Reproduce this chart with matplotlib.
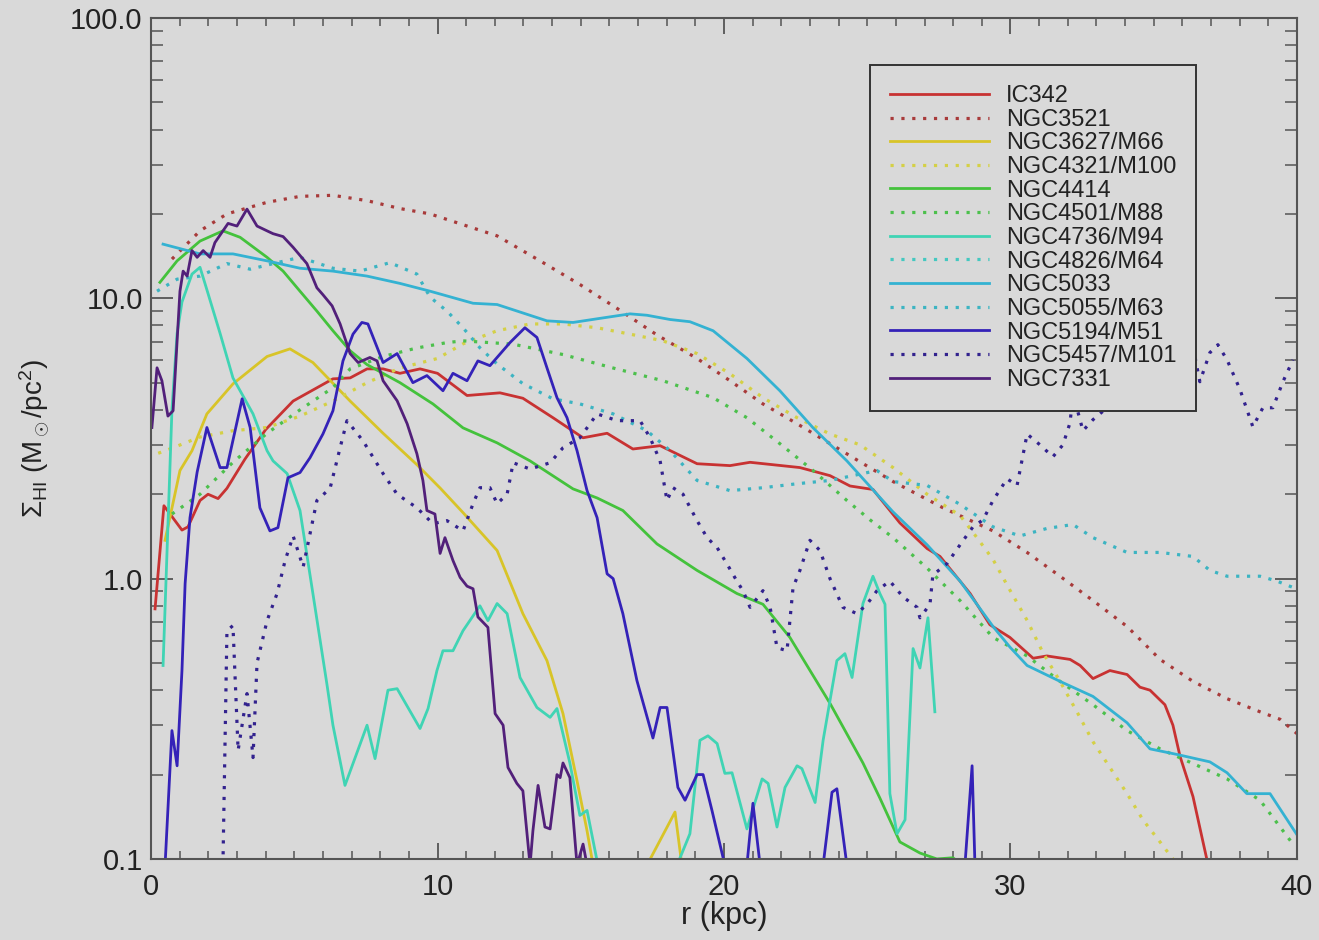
import numpy as np
import matplotlib
matplotlib.use("Agg")
import matplotlib.pyplot as plt
from matplotlib.ticker import FixedLocator, FixedFormatter, MultipleLocator, LogLocator, NullFormatter

plt.rcParams['font.family'] = ['Liberation Sans', 'DejaVu Sans']
plt.rcParams['mathtext.fontset'] = 'custom'
plt.rcParams['mathtext.rm'] = 'Liberation Sans'
plt.rcParams['mathtext.it'] = 'Liberation Sans'

nan = np.nan

# IC342
r_ic342 = [0.14, 0.45, 1.08, 1.29, 1.71, 1.99, 2.34, 2.65, 3.28, 4.0, 4.96, 6.35, 6.95, 7.54, 8.1, 8.69,
           9.39, 10.0, 11.03, 12.18, 12.98, 14.03, 15.08, 15.92, 16.82, 17.77, 19.06, 20.21, 20.91, 22.65,
           23.7, 24.4, 25.2, 26.14, 27.09, 27.54, 28.59, 29.28, 29.98, 30.79, 31.27, 32.08, 32.43, 32.88,
           33.47, 34.07, 34.52, 34.87, 35.39, 35.67, 35.92, 36.37, 36.72, 36.9]
s_ic342 = [0.78, 1.82, 1.49, 1.53, 1.9, 2.0, 1.93, 2.1, 2.67, 3.4, 4.3, 5.16, 5.2, 5.6, 5.6, 5.4,
           5.6, 5.4, 4.5, 4.6, 4.4, 3.75, 3.18, 3.3, 2.9, 2.98, 2.57, 2.53, 2.6, 2.49,
           2.33, 2.14, 2.08, 1.58, 1.28, 1.2, 0.885, 0.685, 0.617, 0.52, 0.53, 0.515, 0.49, 0.44,
           0.47, 0.455, 0.41, 0.40, 0.355, 0.30, 0.232, 0.167, 0.115, 0.095]

# NGC3521
r_n3521 = [0.73, 1.71, 2.65, 4.05, 5.2, 6.35, 7.54, 8.69, 9.74, 12.08, 13.58, 14.97, 16.27, 17.66, 19.06,
           20.21, 21.36, 22.55, 23.7, 24.75, 25.9, 27.64, 29.39, 30.58, 31.73, 32.88, 34.07, 35.22, 36.37,
           37.56, 38.71, 39.41, 40.0]
s_n3521 = [13.8, 17.4, 20.0, 22.0, 23.1, 23.3, 22.3, 20.9, 20.0, 16.7, 13.6, 11.2, 9.2, 7.4, 6.1,
           5.08, 4.2, 3.57, 3.03, 2.61, 2.22, 1.79, 1.48, 1.24, 1.02, 0.835, 0.675, 0.515, 0.43,
           0.373, 0.335, 0.315, 0.28]

# NGC3627/M66
r_n3627 = [0.49, 1.01, 1.43, 1.95, 2.86, 4.05, 4.85, 5.65, 6.95, 8.1, 9.28, 10.1, 10.89, 12.08, 12.98,
           13.82, 14.38, 14.87, 15.22, 15.43, nan, 17.31, 18.29, 18.53]
s_n3627 = [1.37, 2.43, 2.86, 3.87, 4.95, 6.2, 6.6, 5.9, 4.3, 3.3, 2.55, 2.1, 1.72, 1.26, 0.75,
           0.51, 0.33, 0.19, 0.126, 0.095, nan, 0.095, 0.147, 0.095]

# NGC4321/M100
r_n4321 = [0.25, 0.77, 1.71, 2.86, 4.05, 5.2, 6.35, 7.54, 8.69, 10.0, 10.89, 12.08, 13.23, 14.38, 15.57,
           16.72, 17.87, 19.06, 20.21, 21.36, 22.55, 23.7, 24.75, 25.9, 27.09, 28.24, 28.83, 29.39,
           29.98, 30.58, 31.13, 31.73, 32.32, 32.88, 33.47, 34.07, 34.62, 35.22, 35.67]
s_n4321 = [2.8, 2.93, 3.2, 3.37, 3.46, 3.8, 4.3, 5.0, 5.64, 6.1, 6.88, 7.66, 8.1, 8.1, 7.85,
           7.45, 7.05, 6.35, 5.38, 4.42, 3.75, 3.28, 3.0, 2.49, 2.0, 1.68, 1.4, 1.17,
           0.91, 0.71, 0.545, 0.43, 0.335, 0.262, 0.212, 0.171, 0.138, 0.115, 0.1]

# NGC4414
r_n4414 = [0.31, 0.91, 1.71, 2.51, 3.11, 4.05, 4.61, 5.2, 5.79, 6.35, 6.95, 7.54, 8.69, 9.84, 10.89,
           12.08, 13.23, 14.73, 15.57, 16.47, 17.66, 19.06, 20.45, 21.36, 22.3, 23.7, 24.85, 25.44,
           26.14, 26.84, 27.43, 27.99, 28.1]
s_n4414 = [11.4, 13.6, 16.0, 17.4, 16.5, 14.0, 12.5, 10.6, 9.0, 7.66, 6.5, 5.8, 5.0, 4.2, 3.45,
           3.05, 2.63, 2.09, 1.94, 1.75, 1.33, 1.07, 0.885, 0.81, 0.617, 0.359, 0.22, 0.165,
           0.115, 0.105, 0.1, 0.101, 0.099]

# NGC4501/M88
r_n4501 = [0.73, 1.71, 2.86, 4.05, 5.2, 6.35, 6.95, 8.1, 9.28, 10.33, 10.89, 12.64, 14.38, 16.13, 17.87,
           19.62, 20.8, 21.95, 23.11, 24.29, 25.1, 25.9, 27.09, 28.24, 29.39, 30.58, 31.73, 32.88,
           34.07, 35.22, 36.37, 37.56, 38.71, 39.86]
s_n4501 = [1.7, 2.0, 2.6, 3.3, 4.0, 4.8, 5.6, 6.2, 6.65, 6.95, 7.05, 6.86, 6.3, 5.64, 5.08,
           4.42, 3.75, 3.03, 2.43, 1.9, 1.62, 1.4, 1.09, 0.835, 0.617, 0.53, 0.43, 0.355,
           0.287, 0.247, 0.219, 0.193, 0.162, 0.113]

# NGC4736/M94
r_n4736 = [0.42, 0.56, 0.73, 0.91, 1.08, 1.43, 1.71, 1.99, 2.41, 2.86, 3.56, 4.05, 4.26, 4.75, 5.2,
           5.65, 6.14, 6.35, 6.77, 7.54, 7.82, 8.27, 8.59, 9.39, 9.67, 9.98, 10.19, 10.54, 10.89,
           11.48, 11.76, 12.08, 12.43, 12.88, 13.47, 13.93, 14.17, 14.62, 14.97, 15.22, 15.6, nan,
           18.36, 18.81, 19.16, 19.44, 19.76, 20.03, 20.28, 20.8, 21.33, 21.54, 21.85, 22.13, 22.55,
           22.72, 23.18, 23.46, 23.94, 24.22, 24.47, 24.85, 25.2, 25.44, 25.62, 25.79, 26.04, 26.32,
           26.6, 26.84, 27.12, 27.36]
s_n4736 = [0.49, 1.26, 4.0, 7.5, 9.7, 12.2, 12.9, 10.4, 7.5, 5.2, 3.87, 2.86, 2.63, 2.37, 1.75,
           0.885, 0.42, 0.30, 0.183, 0.30, 0.228, 0.4, 0.405, 0.292, 0.344, 0.47, 0.553, 0.553, 0.652,
           0.80, 0.708, 0.815, 0.75, 0.444, 0.347, 0.32, 0.344, 0.22, 0.143, 0.149, 0.095, nan,
           0.095, 0.123, 0.265, 0.275, 0.258, 0.202, 0.203, 0.128, 0.193, 0.186, 0.130, 0.18, 0.215,
           0.21, 0.159, 0.265, 0.51, 0.54, 0.444, 0.815, 1.02, 0.885, 0.81, 0.171, 0.123, 0.138,
           0.563, 0.48, 0.725, 0.335]

# NGC4826/M64 (not visible in the plotted range)
r_n4826 = []
s_n4826 = []

# NGC5033
r_n5033 = [0.42, 1.71, 2.86, 4.05, 5.2, 6.35, 7.54, 8.69, 9.74, 11.24, 12.08, 13.82, 14.73, 15.57, 16.72,
           17.31, 18.12, 18.81, 19.62, 20.8, 21.95, 23.11, 24.29, 25.34, 25.9, 27.09, 28.24, 29.39,
           29.98, 30.58, 31.73, 32.88, 34.07, 34.87, 35.81, 36.96, 37.56, 38.25, 39.06, 40.0]
s_n5033 = [15.6, 14.4, 14.4, 13.6, 12.8, 12.5, 12.0, 11.3, 10.6, 9.6, 9.5, 8.31, 8.2, 8.45, 8.8,
           8.7, 8.4, 8.25, 7.66, 6.1, 4.68, 3.45, 2.63, 2.0, 1.73, 1.32, 0.98, 0.675,
           0.57, 0.49, 0.43, 0.38, 0.306, 0.247, 0.236, 0.222, 0.203, 0.171, 0.171, 0.122]

# NGC5055/M63
r_n5055 = [0.21, 0.91, 1.71, 2.65, 3.46, 4.4, 5.2, 6.35, 7.29, 8.34, 9.28, 9.74, 10.33, 10.89, 11.48,
           12.08, 12.98, 14.03, 14.97, 16.13, 17.31, 18.12, 19.06, 20.21, 21.36, 22.55, 23.7, 25.34,
           25.9, 27.09, 28.24, 29.39, 30.33, 31.27, 32.18, 32.88, 34.07, 35.22, 36.37, 36.96, 37.56,
           38.71, 39.3, 39.86]
s_n5055 = [10.6, 11.7, 12.0, 13.3, 12.7, 13.4, 14.0, 12.8, 12.5, 13.4, 12.2, 10.1, 9.0, 7.85, 6.66,
           5.83, 4.96, 4.38, 4.2, 3.87, 3.37, 2.86, 2.24, 2.06, 2.11, 2.18, 2.24, 2.43,
           2.22, 2.15, 1.84, 1.53, 1.42, 1.51, 1.56, 1.40, 1.24, 1.24, 1.2, 1.07, 1.02,
           1.02, 0.98, 0.93]

# NGC5194/M51
r_n5194 = [0.49, 0.73, 0.91, 1.08, 1.19, 1.36, 1.61, 1.95, 2.41, 2.65, 3.18, 3.46, 3.8, 4.15, 4.43,
           4.78, 5.2, 5.55, 6.0, 6.35, 6.7, 7.05, 7.36, 7.57, 8.1, 8.59, 9.14, 9.63, 10.19, 10.54,
           11.03, 11.41, 11.83, 12.53, 13.05, 13.47, 13.82, 14.17, 14.52, 14.87, 15.22, 15.57, 15.92,
           16.13, 16.47, 16.96, 17.52, 17.77, 18.01, 18.39, 18.64, 19.06, 19.27, 19.58, 20.03, nan,
           20.8, 21.01, 21.26, nan, 23.46, 23.77, 23.94, 24.29, nan, 28.41, 28.66, 28.76]
s_n5194 = [0.095, 0.287, 0.215, 0.47, 0.96, 1.65, 2.4, 3.46, 2.49, 2.49, 4.38, 3.46, 1.79, 1.48, 1.52,
           2.29, 2.39, 2.7, 3.28, 3.97, 5.98, 7.45, 8.2, 8.1, 5.9, 6.35, 5.0, 5.3, 4.68, 5.4,
           5.08, 5.98, 5.75, 6.95, 7.85, 7.25, 5.65, 4.42, 3.75, 2.86, 2.06, 1.65, 1.04,
           1.0, 0.75, 0.433, 0.27, 0.347, 0.347, 0.18, 0.162, 0.2, 0.2, 0.149, 0.095, nan,
           0.095, 0.158, 0.095, nan, 0.095, 0.173, 0.178, 0.095, nan, 0.095, 0.215, 0.095]

# NGC5457/M101
r_n5457 = [2.51, 2.65, 2.86, 3.04, 3.35, 3.56, 3.7, 4.05, 4.4, 4.68, 4.96, 5.31, 5.79, 6.25, 6.6,
           6.84, 7.4, 8.1, 8.59, 9.28, 9.84, 10.33, 10.89, 11.24, 11.48, 11.83, 12.08, 12.43, 12.64,
           13.23, 13.93, 14.38, 14.97, 15.57, 16.27, 17.07, 17.42, 17.77, 18.01, 18.22, 18.57, 19.06,
           19.41, 19.76, 20.1, 20.45, 20.66, 20.91, 21.36, 21.61, 21.85, 22.2, 22.41, 22.65, 23.0,
           23.35, 23.7, 24.15, 24.64, 24.99, 25.34, 25.79, 26.25, 26.74, 26.84, 27.19, 27.29, 27.78,
           28.24, 28.69, 29.04, 29.39, 29.88, 30.23, 30.58, 31.03, 31.48, 31.83, 32.08, 32.18, 32.53,
           32.88, 33.37, 33.82, 34.28, 34.52, 34.97, 35.32, 35.67, 35.92, 36.26, 36.61, 36.96, 37.24,
           37.56, 38.01, 38.46, 38.81, 39.16, 39.51, 39.86]
s_n5457 = [0.095, 0.652, 0.68, 0.244, 0.389, 0.23, 0.5, 0.708, 0.885, 1.16, 1.42, 1.1, 1.9, 2.1, 2.93,
           3.66, 3.1, 2.37, 2.0, 1.79, 1.57, 1.61, 1.48, 1.85, 2.11, 2.11, 1.85, 2.0, 2.59,
           2.46, 2.59, 2.93, 3.18, 3.87, 3.66, 3.66, 3.18, 2.63, 1.9, 2.11, 2.0, 1.61,
           1.4, 1.29, 1.13, 0.98, 0.906, 0.79, 0.906, 0.79, 0.567, 0.553, 0.93, 1.07, 1.37,
           1.26, 1.0, 0.79, 0.75, 0.81, 0.906, 0.98, 0.86, 0.79, 0.725, 0.81, 1.03, 1.13,
           1.32, 1.53, 1.62, 1.9, 2.27, 2.15, 3.28, 3.0, 2.72, 3.0, 3.6, 4.57, 3.37,
           3.69, 4.07, 4.18, 4.07, 5.16, 5.34, 4.73, 4.73, 6.03, 7.66, 5.04, 6.4, 6.83,
           6.03, 4.73, 3.48, 4.07, 4.07, 5.04, 6.03]

# NGC7331
r_n7331 = [0.03, 0.21, 0.38, 0.59, 0.77, 1.01, 1.12, 1.26, 1.43, 1.61, 1.82, 2.06, 2.23, 2.69, 3.0,
           3.35, 3.7, 4.05, 4.26, 4.61, 4.96, 5.44, 5.79, 6.0, 6.32, 6.6, 6.95, 7.23, 7.64, 7.89,
           8.1, 8.59, 8.94, 9.28, 9.49, 9.63, 9.91, 10.09, 10.26, 10.54, 10.79, 11.03, 11.24, 11.41,
           11.76, 12.01, 12.29, 12.46, 12.77, 12.98, 13.23, 13.33, 13.51, 13.75, 13.93, 14.17, 14.28,
           14.38, 14.62, 14.87, 15.08, 15.22]
s_n7331 = [3.46, 5.65, 5.08, 3.8, 3.97, 10.6, 12.5, 12.0, 14.8, 14.0, 14.8, 14.0, 15.8, 18.5, 18.1,
           20.8, 18.1, 17.4, 17.0, 16.6, 15.2, 13.3, 10.9, 10.3, 9.4, 8.1, 6.35, 5.9, 6.15, 5.98,
           5.08, 4.31, 3.57, 2.79, 2.24, 1.75, 1.70, 1.23, 1.4, 1.16, 1.01, 0.94, 0.92, 0.73,
           0.67, 0.33, 0.30, 0.212, 0.186, 0.175, 0.095, 0.126, 0.183, 0.13, 0.128, 0.2, 0.195,
           0.22, 0.195, 0.095, 0.113, 0.095]

names = ['IC342', 'NGC3521', 'NGC3627/M66', 'NGC4321/M100', 'NGC4414', 'NGC4501/M88', 'NGC4736/M94',
         'NGC4826/M64', 'NGC5033', 'NGC5055/M63', 'NGC5194/M51', 'NGC5457/M101', 'NGC7331']
radii = [r_ic342, r_n3521, r_n3627, r_n4321, r_n4414, r_n4501, r_n4736,
         r_n4826, r_n5033, r_n5055, r_n5194, r_n5457, r_n7331]
sigmas = [s_ic342, s_n3521, s_n3627, s_n4321, s_n4414, s_n4501, s_n4736,
          s_n4826, s_n5033, s_n5055, s_n5194, s_n5457, s_n7331]
colors = ['#c83232', '#a83a3a', '#d8c428', '#d4d046', '#44c23c', '#4cc04c', '#40d4b4',
          '#44c8c0', '#34b2d2', '#3cb4c2', '#3422b8', '#32228e', '#52207a']
dotted = [False, True, False, True, False, True, False, True, False, True, False, True, False]

bg = '#d9d9d9'
fig = plt.figure(figsize=(13.19, 9.40), dpi=100, facecolor=bg)
ax = fig.add_axes([0.1145, 0.0862, 0.8688, 0.8947], facecolor=bg)

for r, s, c, d, n in zip(radii, sigmas, colors, dotted, names):
    if d:
        ax.plot(r, s, color=c, lw=2.3, linestyle=(0, (1, 2.4)), label=n)
    else:
        ax.plot(r, s, color=c, lw=2.0, label=n)

ax.set_yscale('log')
ax.set_xlim(0, 40)
ax.set_ylim(0.1, 100)

ax.xaxis.set_major_locator(MultipleLocator(10))
ax.xaxis.set_minor_locator(MultipleLocator(1))
ax.yaxis.set_major_locator(FixedLocator([0.1, 1, 10, 100]))
ax.yaxis.set_major_formatter(FixedFormatter(['0.1', '1.0', '10.0', '100.0']))
ax.yaxis.set_minor_locator(LogLocator(base=10, subs=np.arange(2, 10)))
ax.yaxis.set_minor_formatter(NullFormatter())

edge = '#555555'
for sp in ax.spines.values():
    sp.set_color(edge)
    sp.set_linewidth(1.5)
ax.tick_params(axis='both', which='both', direction='in', top=True, right=True,
               color=edge, labelcolor='#222222', labelsize=21)
ax.tick_params(axis='x', which='major', length=11.5, width=1.3, pad=10)
ax.tick_params(axis='x', which='minor', length=5.5, width=1.1)
ax.tick_params(axis='y', which='major', length=15.5, width=1.3, pad=6)
ax.tick_params(axis='y', which='minor', length=8.5, width=1.1)

ax.set_xlabel('r (kpc)', fontsize=22, color='#222222', labelpad=0)
ax.set_ylabel(r'$\Sigma_{\rm HI}$ (M$_\odot$/pc$^2$)', fontsize=20, color='#222222', labelpad=13)

leg = ax.legend(loc='upper left', bbox_to_anchor=(0.627, 0.944), borderaxespad=0,
                fontsize=17, labelspacing=0.07, handlelength=4.2, handletextpad=0.72,
                borderpad=0.85, fancybox=False, framealpha=1, facecolor=bg, edgecolor='#333333')
leg.get_frame().set_linewidth(1.4)
for t in leg.get_texts():
    t.set_color('#222222')

fig.savefig('out.png', dpi=100, facecolor=bg)
